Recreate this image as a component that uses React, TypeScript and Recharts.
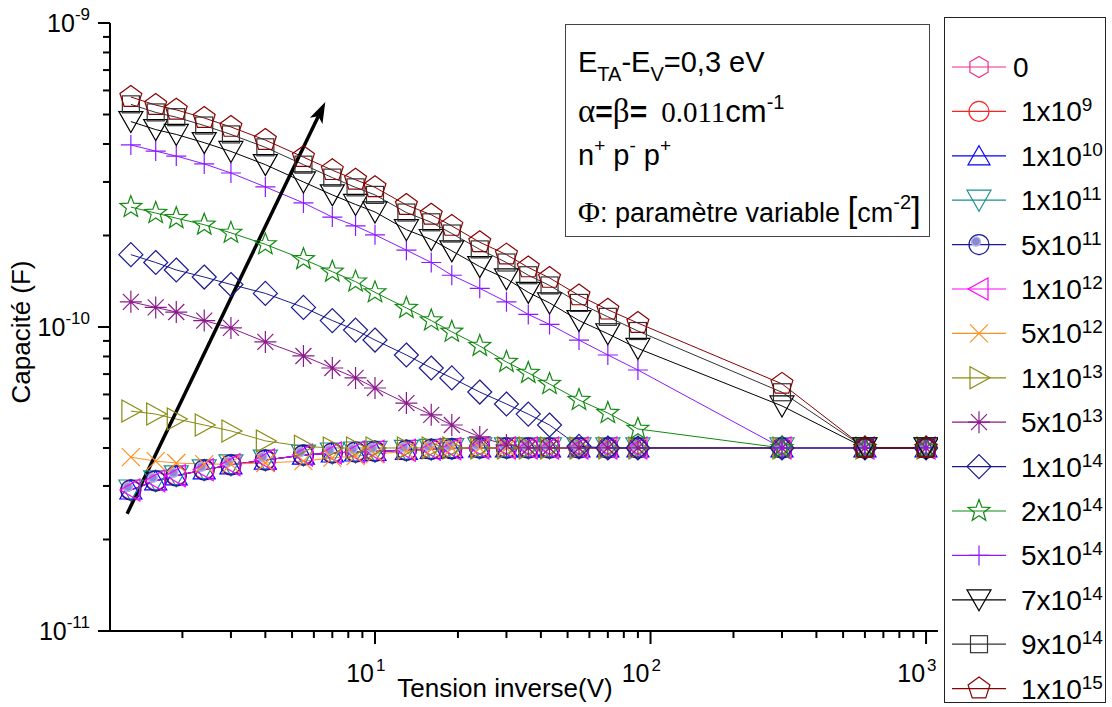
import React from "react";
import { LineChart, Line, XAxis, YAxis, ReferenceLine } from "recharts";

const SANS = "'Liberation Sans', Arial, sans-serif";
const SERIF = "'Liberation Serif', 'Times New Roman', serif";

// Tension inverse (V)
const voltage = [1.3, 1.6, 1.9, 2.4, 3, 4, 5.5, 7, 8.5, 10, 13, 16, 19, 24, 30, 36, 43, 55, 70, 90, 300, 600, 1000];

// Capacité (F) for each fluence value
const capLow = [2.91e-11, 3.12e-11, 3.24e-11, 3.39e-11, 3.52e-11, 3.65e-11, 3.79e-11, 3.85e-11, 3.88e-11, 3.9e-11, 3.93e-11, 3.96e-11, 3.98e-11, 4.0e-11, 4.0e-11, 4.0e-11, 4.0e-11, 4.0e-11, 4.0e-11, 4.0e-11, 4.0e-11, 4.0e-11, 4.0e-11];
const cap5e12 = [3.73e-11, 3.62e-11, 3.57e-11, 3.54e-11, 3.54e-11, 3.57e-11, 3.62e-11, 3.71e-11, 3.76e-11, 3.82e-11, 3.9e-11, 3.97e-11, 4.0e-11, 4.0e-11, 4.0e-11, 4.0e-11, 4.0e-11, 4.0e-11, 4.0e-11, 4.0e-11, 4.0e-11, 4.0e-11, 4.0e-11];
const cap1e13 = [5.29e-11, 5.17e-11, 4.98e-11, 4.76e-11, 4.55e-11, 4.22e-11, 4.05e-11, 4.0e-11, 4.0e-11, 4.0e-11, 4.0e-11, 4.0e-11, 4.0e-11, 4.0e-11, 4.0e-11, 4.0e-11, 4.0e-11, 4.0e-11, 4.0e-11, 4.0e-11, 4.0e-11, 4.0e-11, 4.0e-11];
const cap5e13 = [1.21e-10, 1.16e-10, 1.12e-10, 1.05e-10, 9.93e-11, 8.93e-11, 8.03e-11, 7.33e-11, 6.8e-11, 6.3e-11, 5.62e-11, 5.14e-11, 4.76e-11, 4.35e-11, 4.09e-11, 4.0e-11, 4.0e-11, 4.0e-11, 4.0e-11, 4.0e-11, 4.0e-11, 4.0e-11, 4.0e-11];
const cap1e14 = [1.73e-10, 1.63e-10, 1.54e-10, 1.46e-10, 1.38e-10, 1.29e-10, 1.16e-10, 1.05e-10, 9.77e-11, 9.06e-11, 8.09e-11, 7.33e-11, 6.8e-11, 6.11e-11, 5.58e-11, 5.17e-11, 4.76e-11, 4.05e-11, 4.0e-11, 4.0e-11, 4.0e-11, 4.0e-11, 4.0e-11];
const cap2e14 = [2.48e-10, 2.37e-10, 2.28e-10, 2.17e-10, 2.04e-10, 1.87e-10, 1.67e-10, 1.52e-10, 1.41e-10, 1.3e-10, 1.155e-10, 1.05e-10, 9.64e-11, 8.66e-11, 7.67e-11, 7.06e-11, 6.49e-11, 5.75e-11, 5.21e-11, 4.62e-11, 4.0e-11, 4.0e-11, 4.0e-11];
const cap5e14 = [3.97e-10, 3.79e-10, 3.65e-10, 3.44e-10, 3.21e-10, 2.89e-10, 2.56e-10, 2.3e-10, 2.15e-10, 2.01e-10, 1.79e-10, 1.63e-10, 1.48e-10, 1.34e-10, 1.21e-10, 1.1e-10, 1.02e-10, 9.06e-11, 8.09e-11, 7.22e-11, 4.0e-11, 4.0e-11, 4.0e-11];
const cap7e14 = [4.74e-10, 4.46e-10, 4.3e-10, 4.04e-10, 3.78e-10, 3.42e-10, 3.0e-10, 2.72e-10, 2.53e-10, 2.39e-10, 2.09e-10, 1.94e-10, 1.78e-10, 1.58e-10, 1.44e-10, 1.3e-10, 1.2e-10, 1.05e-10, 9.5e-11, 8.5e-11, 5.5e-11, 4.0e-11, 4.0e-11];
const cap9e14 = [5.4e-10, 5.08e-10, 4.9e-10, 4.6e-10, 4.3e-10, 3.9e-10, 3.42e-10, 3.1e-10, 2.88e-10, 2.72e-10, 2.38e-10, 2.21e-10, 2.03e-10, 1.8e-10, 1.63e-10, 1.48e-10, 1.37e-10, 1.2e-10, 1.08e-10, 9.7e-11, 6.1e-11, 4.0e-11, 4.0e-11];
const cap1e15 = [5.71e-10, 5.37e-10, 5.18e-10, 4.87e-10, 4.55e-10, 4.12e-10, 3.62e-10, 3.28e-10, 3.05e-10, 2.88e-10, 2.52e-10, 2.34e-10, 2.15e-10, 1.9e-10, 1.73e-10, 1.57e-10, 1.45e-10, 1.27e-10, 1.14e-10, 1.03e-10, 6.5e-11, 4.0e-11, 4.0e-11];

// legend labels: mantissa + exponent
const series = [
  { key: "p0", base: "0", exp: "", values: capLow, color: "#ee2a8c", shape: "hexagon" },
  { key: "p1e9", base: "1x10", exp: "9", values: capLow, color: "#ff2020", shape: "circle" },
  { key: "p1e10", base: "1x10", exp: "10", values: capLow, color: "#0000ff", shape: "triUp" },
  { key: "p1e11", base: "1x10", exp: "11", values: capLow, color: "#1a9090", shape: "triDown" },
  { key: "p5e11", base: "5x10", exp: "11", values: capLow, color: "#1a1a9a", shape: "ball" },
  { key: "p1e12", base: "1x10", exp: "12", values: capLow, color: "#ff00ff", shape: "triLeft" },
  { key: "p5e12", base: "5x10", exp: "12", values: cap5e12, color: "#ff9020", shape: "cross" },
  { key: "p1e13", base: "1x10", exp: "13", values: cap1e13, color: "#8a8a10", shape: "triRight" },
  { key: "p5e13", base: "5x10", exp: "13", values: cap5e13, color: "#8b1a8b", shape: "asterisk" },
  { key: "p1e14", base: "1x10", exp: "14", values: cap1e14, color: "#1a1a90", shape: "diamond" },
  { key: "p2e14", base: "2x10", exp: "14", values: cap2e14, color: "#108a10", shape: "star" },
  { key: "p5e14", base: "5x10", exp: "14", values: cap5e14, color: "#8a1aff", shape: "plus" },
  { key: "p7e14", base: "7x10", exp: "14", values: cap7e14, color: "#000000", shape: "triDown" },
  { key: "p9e14", base: "9x10", exp: "14", values: cap9e14, color: "#333333", shape: "square" },
  { key: "p1e15", base: "1x10", exp: "15", values: cap1e15, color: "#8b0000", shape: "pentagon" },
];

const xTicks = [2, 3, 4, 5, 6, 7, 8, 9, 10, 20, 30, 40, 50, 60, 70, 80, 90, 100, 200, 300, 400, 500, 600, 700, 800, 900, 1000];
const yTicks = [1e-11, 2e-11, 3e-11, 4e-11, 5e-11, 6e-11, 7e-11, 8e-11, 9e-11, 1e-10, 2e-10, 3e-10, 4e-10, 5e-10, 6e-10, 7e-10, 8e-10, 9e-10, 1e-9];
const frameTicks = [1, 2, 3, 4, 5, 6, 7, 8, 9];

// arrow (V, F)
const arrowFrom = { v: 1.26, c: 2.43e-11 };
const arrowTo = { v: 6.6, c: 5.5e-10 };

const rows = voltage.map((v, i) => {
  const r: any = { v };
  series.forEach((s) => (r[s.key] = s.values[i]));
  return r;
});

const isDecade = (v: number) => Math.abs(Math.log10(v) - Math.round(Math.log10(v))) < 1e-6;

function Marker({ shape, cx, cy, color }: { shape: string; cx: number; cy: number; color: string }) {
  const st = { fill: "none", stroke: color, strokeWidth: 1.2 };
  const poly = (n: number, r: number) =>
    Array.from({ length: n }, (_, k) => {
      const a = -Math.PI / 2 + (2 * Math.PI * k) / n;
      return `${cx + r * Math.cos(a)},${cy + r * Math.sin(a)}`;
    }).join(" ");
  switch (shape) {
    case "hexagon":
      return <polygon points={poly(6, 10.5)} {...st} />;
    case "circle":
      return <circle cx={cx} cy={cy} r={10} {...st} />;
    case "ball":
      return (
        <g>
          <circle cx={cx} cy={cy} r={10} {...st} />
          <circle cx={cx - 3} cy={cy - 3} r={4.5} fill="#8a8ad0" stroke="#b4b4e8" strokeWidth={1.5} />
        </g>
      );
    case "triUp":
      return <polygon points={`${cx},${cy - 10} ${cx + 11},${cy + 9} ${cx - 11},${cy + 9}`} {...st} />;
    case "triDown":
      return <polygon points={`${cx},${cy + 11} ${cx + 12},${cy - 10} ${cx - 12},${cy - 10}`} {...st} />;
    case "triLeft":
      return <polygon points={`${cx - 11},${cy} ${cx + 9},${cy - 11} ${cx + 9},${cy + 11}`} {...st} />;
    case "triRight":
      return <polygon points={`${cx + 11},${cy} ${cx - 9},${cy - 11} ${cx - 9},${cy + 11}`} {...st} />;
    case "cross":
      return <path d={`M${cx - 9},${cy - 9}L${cx + 9},${cy + 9}M${cx + 9},${cy - 9}L${cx - 9},${cy + 9}`} {...st} />;
    case "asterisk":
      return (
        <path
          d={`M${cx},${cy - 11}L${cx},${cy + 11}M${cx - 11},${cy}L${cx + 11},${cy}M${cx - 8},${cy - 8}L${cx + 8},${cy + 8}M${cx + 8},${cy - 8}L${cx - 8},${cy + 8}`}
          {...st}
        />
      );
    case "diamond":
      return <polygon points={poly(4, 12)} {...st} />;
    case "star": {
      const pts = Array.from({ length: 10 }, (_, k) => {
        const a = -Math.PI / 2 + (Math.PI * k) / 5;
        const r = k % 2 === 0 ? 11.5 : 4.8;
        return `${cx + r * Math.cos(a)},${cy + r * Math.sin(a)}`;
      }).join(" ");
      return <polygon points={pts} {...st} />;
    }
    case "plus":
      return <path d={`M${cx},${cy - 10}L${cx},${cy + 10}M${cx - 10},${cy}L${cx + 10},${cy}`} {...st} />;
    case "square":
      return <rect x={cx - 8.5} y={cy - 8.5} width={17} height={17} {...st} />;
    case "pentagon":
      return <polygon points={poly(5, 11.5)} {...st} />;
    default:
      return null;
  }
}

function BottomTick({ x, y, payload }: any) {
  const v = payload.value;
  const major = isDecade(v);
  return (
    <g>
      <line x1={x} y1={y} x2={x} y2={y + (major ? 13 : 7)} stroke="#000" strokeWidth={2} />
      {major && (
        <>
          <text x={x - 1} y={y + 51} textAnchor="end" fontSize={25} fontFamily={SANS} fill="#000">
            10
          </text>
          <text x={x + 1} y={y + 40} fontSize={17} fontFamily={SANS} fill="#000">
            {Math.round(Math.log10(v))}
          </text>
        </>
      )}
    </g>
  );
}

function LeftTick({ x, y, payload }: any) {
  const v = payload.value;
  const major = isDecade(v);
  return (
    <g>
      <line x1={x} y1={y} x2={x - (major ? 12 : 7)} y2={y} stroke="#000" strokeWidth={2} />
      {major && (
        <text x={x - 20} y={y + 9} textAnchor="end" fontSize={25} fontFamily={SANS} fill="#000">
          10
          <tspan fontSize={17} dy={-12}>
            {Math.round(Math.log10(v))}
          </tspan>
        </text>
      )}
    </g>
  );
}

function TopTick({ x, y }: any) {
  return <line x1={x} y1={y} x2={x} y2={y + 10} stroke="#000" strokeWidth={2} />;
}

function RightTick({ x, y }: any) {
  return <line x1={x} y1={y} x2={x - 10} y2={y} stroke="#000" strokeWidth={2} />;
}

function ArrowShape(p: any) {
  const { x1, y1, x2, y2 } = p;
  const ang = Math.atan2(y2 - y1, x2 - x1);
  const len = 21;
  const half = 7;
  const bx = x2 - len * Math.cos(ang);
  const by = y2 - len * Math.sin(ang);
  const px = -Math.sin(ang) * half;
  const py = Math.cos(ang) * half;
  const nx = x2 - (len - 5) * Math.cos(ang);
  const ny = y2 - (len - 5) * Math.sin(ang);
  return (
    <g>
      <line x1={x1} y1={y1} x2={nx} y2={ny} stroke="#000" strokeWidth={3.5} />
      <polygon points={`${x2},${y2} ${bx + px},${by + py} ${nx},${ny} ${bx - px},${by - py}`} fill="#000" />
    </g>
  );
}

function Overlay() {
  const rowY = (i: number) => 67 + 44.4 * i;
  return (
    <svg width={1112} height={707} style={{ position: "absolute", left: 0, top: 0, pointerEvents: "none" }}>
      {/* parameters box */}
      <rect x={565.5} y={24.5} width={364} height={212} fill="none" stroke="#444" strokeWidth={1} />
      <text x={578} y={72} fontSize={29} fontFamily={SANS} fill="#000">
        E<tspan fontSize={20} dy={9}>TA</tspan>
        <tspan dy={-9}>-E</tspan>
        <tspan fontSize={20} dy={9}>V</tspan>
        <tspan dy={-9}>=0,3 eV</tspan>
      </text>
      <text x={578} y={122} fontSize={29} fill="#000">
        <tspan fontFamily={SERIF} fontSize={33}>α</tspan>
        <tspan fontFamily={SANS} fontWeight="bold" fontSize={30}>=</tspan>
        <tspan fontFamily={SERIF} fontSize={33}>β</tspan>
        <tspan fontFamily={SANS} fontWeight="bold" fontSize={30}>=</tspan>
        <tspan fontFamily={SERIF} dx={14}>0.011</tspan>
        <tspan fontFamily={SANS} fontSize={31}>cm</tspan>
        <tspan fontFamily={SANS} fontSize={20} dy={-13}>-1</tspan>
      </text>
      <text x={578} y={165} fontSize={29} fontFamily={SANS} fill="#000">
        n<tspan fontSize={19} dy={-13}>+</tspan>
        <tspan dy={13}> p</tspan>
        <tspan fontSize={19} dy={-13}>-</tspan>
        <tspan dy={13}> p</tspan>
        <tspan fontSize={19} dy={-13}>+</tspan>
      </text>
      <text x={578} y={222} fontSize={27} fill="#000">
        <tspan fontFamily={SERIF} fontSize={30}>Φ</tspan>
        <tspan fontFamily={SANS}>: paramètre variable </tspan>
        <tspan fontFamily={SANS} fontSize={35}>[</tspan>
        <tspan fontFamily={SANS}>cm</tspan>
        <tspan fontFamily={SANS} fontSize={20} dy={-13}>-2</tspan>
        <tspan fontFamily={SANS} fontSize={35} dy={13}>]</tspan>
      </text>

      {/* legend */}
      <rect x={944.5} y={17.5} width={161} height={685} fill="#fff" stroke="#222" strokeWidth={1} />
      {series.map((s, i) => (
        <g key={s.key}>
          <line x1={952} y1={rowY(i)} x2={1006} y2={rowY(i)} stroke={s.color} strokeWidth={1.2} />
          <Marker shape={s.shape} cx={979} cy={rowY(i)} color={s.color} />
          <text x={s.exp ? 1021 : 1013} y={rowY(i) + 10} fontSize={28} fontFamily={SANS} fill="#000">
            {s.base}
            {s.exp && (
              <tspan fontSize={19} dy={-10}>
                {s.exp}
              </tspan>
            )}
          </text>
        </g>
      ))}
    </svg>
  );
}

export default function App() {
  return (
    <div style={{ position: "absolute", left: 0, top: 0, width: 1112, height: 707, background: "#fff" }}>
      <LineChart width={1112} height={707} data={rows} margin={{ top: 23, right: 174, bottom: 0, left: 0 }}>
        <XAxis
          dataKey="v"
          type="number"
          scale="log"
          domain={[1.092, 1105]}
          allowDataOverflow
          ticks={xTicks}
          interval={0}
          height={76}
          tickSize={0}
          tickMargin={0}
          tickLine={false}
          axisLine={{ stroke: "#000", strokeWidth: 2 }}
          tick={(p: any) => <BottomTick {...p} />}
          label={{
            content: (p: any) => (
              <text
                x={p.viewBox.x + p.viewBox.width / 2 - 19}
                y={p.viewBox.y + 66}
                textAnchor="middle"
                fontSize={26}
                fontFamily={SANS}
                fill="#000"
              >
                Tension inverse(V)
              </text>
            ),
          }}
        />
        <XAxis
          xAxisId="top"
          orientation="top"
          type="number"
          domain={[0, 10]}
          ticks={frameTicks}
          interval={0}
          height={0}
          tickSize={0}
          tickMargin={0}
          tickLine={false}
          axisLine={{ stroke: "#000", strokeWidth: 2 }}
          tick={(p: any) => <TopTick {...p} />}
        />
        <YAxis
          type="number"
          scale="log"
          domain={[1e-11, 1e-9]}
          allowDataOverflow
          ticks={yTicks}
          interval={0}
          width={110}
          tickSize={0}
          tickMargin={0}
          tickLine={false}
          axisLine={{ stroke: "#000", strokeWidth: 2 }}
          tick={(p: any) => <LeftTick {...p} />}
          label={{
            content: (p: any) => {
              const cx = p.viewBox.x + 30;
              const cy = p.viewBox.y + p.viewBox.height / 2 + 5;
              return (
                <text
                  x={cx}
                  y={cy}
                  transform={`rotate(-90 ${cx} ${cy})`}
                  textAnchor="middle"
                  fontSize={26}
                  fontFamily={SANS}
                  fill="#000"
                >
                  Capacité (F)
                </text>
              );
            },
          }}
        />
        <YAxis
          yAxisId="right"
          orientation="right"
          type="number"
          domain={[0, 10]}
          ticks={frameTicks}
          interval={0}
          width={0}
          tickSize={0}
          tickMargin={0}
          tickLine={false}
          axisLine={{ stroke: "#000", strokeWidth: 2 }}
          tick={(p: any) => <RightTick {...p} />}
        />
        {series.map((s) => (
          <Line
            key={s.key}
            dataKey={s.key}
            type="linear"
            stroke={s.color}
            strokeWidth={1}
            isAnimationActive={false}
            dot={(p: any) => (
              <g key={`${s.key}-${p.index}`}>
                <Marker shape={s.shape} cx={p.cx} cy={p.cy} color={s.color} />
              </g>
            )}
            activeDot={false}
          />
        ))}
        <ReferenceLine
          segment={[
            { x: arrowFrom.v, y: arrowFrom.c },
            { x: arrowTo.v, y: arrowTo.c },
          ]}
          shape={(p: any) => <ArrowShape {...p} />}
        />
      </LineChart>
      <Overlay />
    </div>
  );
}
